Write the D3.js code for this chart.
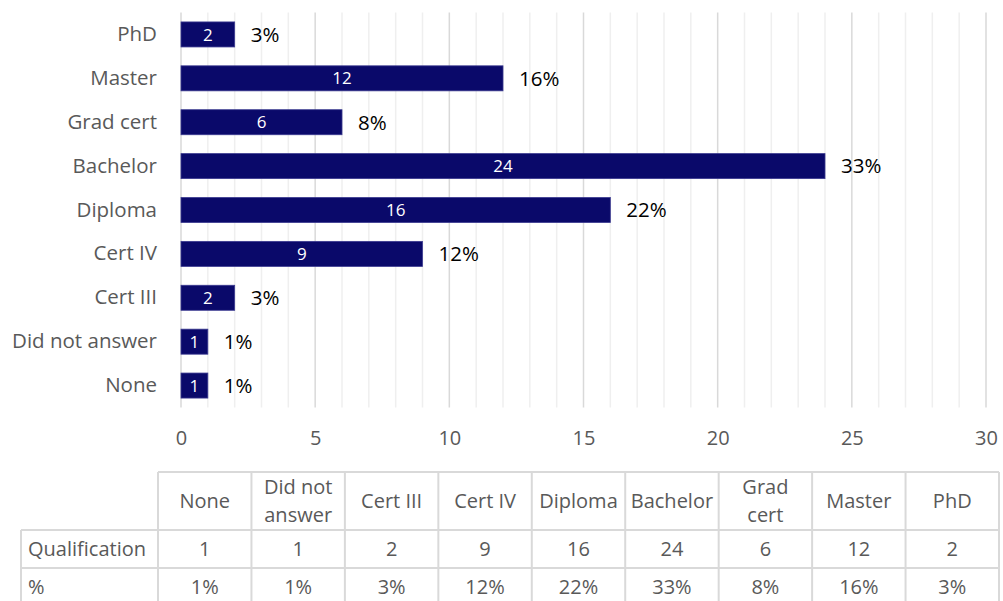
<!DOCTYPE html>
<html>
<head>
<meta charset="utf-8">
<script src="https://cdn.jsdelivr.net/npm/d3@7"></script>
<style>
  html, body { margin: 0; padding: 0; background: #fff; }
  svg { display: block; font-family: "Open Sans", sans-serif; }
</style>
</head>
<body>
<svg id="chart" width="1003" height="601"></svg>
<script>
// Highest qualification, counts and shares
const categories = ["None", "Did not answer", "Cert III", "Cert IV", "Diploma", "Bachelor", "Grad cert", "Master", "PhD"];
const counts = [1, 1, 2, 9, 16, 24, 6, 12, 2];
const percents = ["1%", "1%", "3%", "12%", "22%", "33%", "8%", "16%", "3%"];
const headerLines = [["None"], ["Did not", "answer"], ["Cert III"], ["Cert IV"], ["Diploma"], ["Bachelor"], ["Grad", "cert"], ["Master"], ["PhD"]];
const rowLabels = ["Qualification", "%"];
const xTicks = [0, 5, 10, 15, 20, 25, 30];

const rows = categories.map((c, i) => ({ cat: c, n: counts[i], pct: percents[i] }));

const svg = d3.select("#chart");
const barColor = "#0a096a";
const textGrey = "#595959";
const lineGrey = "#d9d9d9";

const x = d3.scaleLinear().domain([0, 30]).range([181, 986]);
const y = d3.scaleBand()
  .domain(categories.slice().reverse())
  .range([12.5, 407.5])
  .paddingInner(0.43)
  .paddingOuter(0.215);

// gridlines: minor every 1, major every 5
const grid = svg.append("g");
grid.selectAll("line.minor")
  .data(d3.range(1, 31).filter(v => v % 5 !== 0))
  .join("line")
  .attr("x1", d => x(d)).attr("x2", d => x(d))
  .attr("y1", 12.5).attr("y2", 407.5)
  .attr("stroke", "#efefef").attr("stroke-width", 1.5);
grid.selectAll("line.major")
  .data(xTicks)
  .join("line")
  .attr("x1", d => x(d)).attr("x2", d => x(d))
  .attr("y1", 12.5).attr("y2", 407.5)
  .attr("stroke", lineGrey).attr("stroke-width", 1.5);

// x axis labels
const xAxis = d3.axisBottom(x).tickValues(xTicks).tickSize(0).tickPadding(0);
const gx = svg.append("g").attr("transform", "translate(0,430)").call(xAxis);
gx.select(".domain").remove();
gx.selectAll("text")
  .attr("font-family", "Open Sans").attr("font-size", 20)
  .attr("fill", textGrey).attr("dy", "0.75em");

// y axis labels
const yAxis = d3.axisLeft(y).tickSize(0).tickPadding(24);
const gy = svg.append("g").attr("transform", `translate(${x(0)},0)`).call(yAxis);
gy.select(".domain").remove();
gy.selectAll("text")
  .attr("font-family", "Open Sans").attr("font-size", 20.5)
  .attr("fill", textGrey);

// bars
svg.append("g").selectAll("rect")
  .data(rows)
  .join("rect")
  .attr("x", x(0))
  .attr("y", d => y(d.cat))
  .attr("width", d => x(d.n) - x(0))
  .attr("height", y.bandwidth())
  .attr("fill", barColor)
  .attr("stroke", "#3b3a90").attr("stroke-width", 0.8);

// count labels inside bars
svg.append("g").selectAll("text")
  .data(rows)
  .join("text")
  .attr("x", d => (x(0) + x(d.n)) / 2)
  .attr("y", d => y(d.cat) + y.bandwidth() / 2)
  .attr("dy", "0.36em")
  .attr("text-anchor", "middle")
  .attr("font-size", 17)
  .attr("fill", "#fff")
  .text(d => d.n);

// percentage labels beyond bars
svg.append("g").selectAll("text")
  .data(rows)
  .join("text")
  .attr("x", d => x(d.n) + 16)
  .attr("y", d => y(d.cat) + y.bandwidth() / 2)
  .attr("dy", "0.36em")
  .attr("font-size", 20.5)
  .attr("fill", "#000")
  .text(d => d.pct);

// data table beneath the chart
const tbl = svg.append("g");
const colX = d3.scaleBand().domain(categories).range([158, 999]);
const rowTop = [472, 530, 568, 606];
const lineAttrs = sel => sel.attr("stroke", lineGrey).attr("stroke-width", 2);

tbl.append("line").attr("x1", 158).attr("x2", 999).attr("y1", rowTop[0]).attr("y2", rowTop[0]).call(lineAttrs);
[rowTop[1], rowTop[2], rowTop[3]].forEach(yy => {
  tbl.append("line").attr("x1", 21).attr("x2", 999).attr("y1", yy).attr("y2", yy).call(lineAttrs);
});
tbl.append("line").attr("x1", 21).attr("x2", 21).attr("y1", rowTop[1]).attr("y2", rowTop[3]).call(lineAttrs);
categories.concat(["__end"]).forEach((c, i) => {
  const xx = i < categories.length ? colX(c) : 999;
  tbl.append("line").attr("x1", xx).attr("x2", xx).attr("y1", rowTop[0]).attr("y2", rowTop[3]).call(lineAttrs);
});

// header cells
const cx = c => colX(c) + colX.bandwidth() / 2;
const hdr = tbl.append("g").selectAll("text")
  .data(categories.map((c, i) => ({ c, lines: headerLines[i] })))
  .join("text")
  .attr("text-anchor", "middle")
  .attr("font-size", 20)
  .attr("fill", textGrey);
hdr.each(function(d) {
  const t = d3.select(this);
  const mid = (rowTop[0] + rowTop[1]) / 2;
  const lh = 28;
  const start = mid - (d.lines.length - 1) * lh / 2;
  d.lines.forEach((l, k) => {
    t.append("tspan").attr("x", cx(d.c)).attr("y", start + k * lh).attr("dy", "0.36em").text(l);
  });
});

// body rows
const bodyRows = [counts.map(String), percents];
bodyRows.forEach((vals, r) => {
  const mid = (rowTop[r + 1] + rowTop[r + 2]) / 2;
  tbl.append("text")
    .attr("x", 28).attr("y", mid).attr("dy", "0.36em")
    .attr("font-size", 20).attr("fill", textGrey)
    .text(rowLabels[r]);
  tbl.append("g").selectAll("text")
    .data(vals.map((v, i) => ({ v, c: categories[i] })))
    .join("text")
    .attr("x", d => cx(d.c)).attr("y", mid).attr("dy", "0.36em")
    .attr("text-anchor", "middle")
    .attr("font-size", 20).attr("fill", textGrey)
    .text(d => d.v);
});
</script>
</body>
</html>
